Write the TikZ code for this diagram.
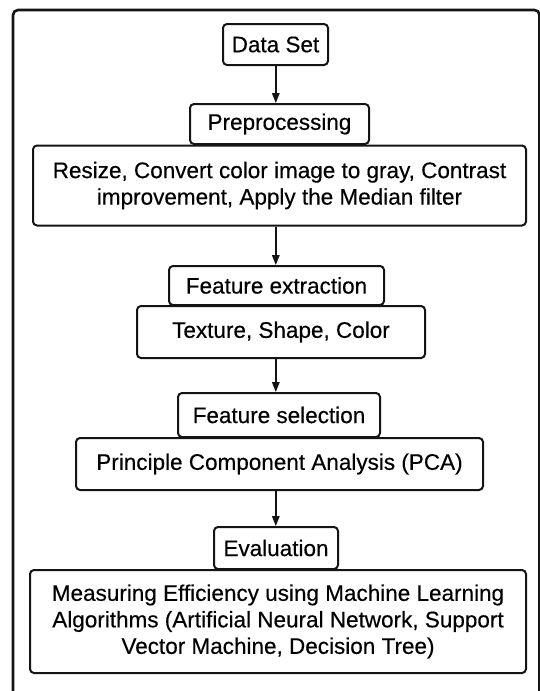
\documentclass[tikz,border=0pt]{standalone}
\usepackage{fontspec}
\setmainfont{Liberation Sans}[FakeBold=0.35]
\usetikzlibrary{arrows.meta}
\definecolor{ink}{HTML}{141414}
\tikzset{
  stage/.style={draw=ink, line width=2pt, rounded corners=4pt, inner sep=0pt,
    align=center, text=black, font=\fontsize{22.5}{26.5}\selectfont},
  arr/.style={draw=ink, line width=1.5pt, -{Triangle[length=10pt,width=7.5pt]}},
  frame/.style={draw=ink, line width=2.6pt, rounded corners=5pt}
}
\begin{document}
\begin{tikzpicture}[x=1pt,y=-1pt]
\useasboundingbox (0,0) rectangle (540,691);
\clip (0,0) rectangle (540,691);
\draw[frame] (13,10) rectangle (539.5,730);
\coordinate (axis) at (275.8,0);
\node[stage, minimum width=105pt, minimum height=41pt] (ds) at (275.5,44.5) {Data Set};
\node[stage, minimum width=179pt, minimum height=40pt] (pre) at (279.5,124) {Preprocessing};
\node[stage, minimum width=493pt, minimum height=80pt] (res) at (279.5,185.5) {Resize, Convert color image to gray, Contrast\\improvement, Apply the Median filter};
\node[stage, minimum width=215pt, minimum height=39pt] (fe) at (276.5,285.5) {Feature extraction};
\node[stage, minimum width=288pt, minimum height=52pt] (tex) at (281,332) {Texture, Shape, Color};
\node[stage, minimum width=202pt, minimum height=44pt] (fs) at (279,415) {Feature selection};
\node[stage, minimum width=407pt, minimum height=52pt] (pca) at (279.5,464) {Principle Component Analysis (PCA)};
\node[stage, minimum width=124pt, minimum height=42pt] (ev) at (276,548) {Evaluation};
\node[stage, minimum width=496pt, minimum height=103pt] (me) at (278,621.5) {Measuring Efficiency using Machine Learning\\Algorithms (Artificial Neural Network, Support\\Vector Machine, Decision Tree)};
\draw[arr] (axis |- ds.south) -- (axis |- pre.north);
\draw[arr] (axis |- res.south) -- (axis |- fe.north);
\draw[arr] (axis |- tex.south) -- (axis |- fs.north);
\draw[arr] (axis |- pca.south) -- (axis |- ev.north);
\end{tikzpicture}
\end{document}
